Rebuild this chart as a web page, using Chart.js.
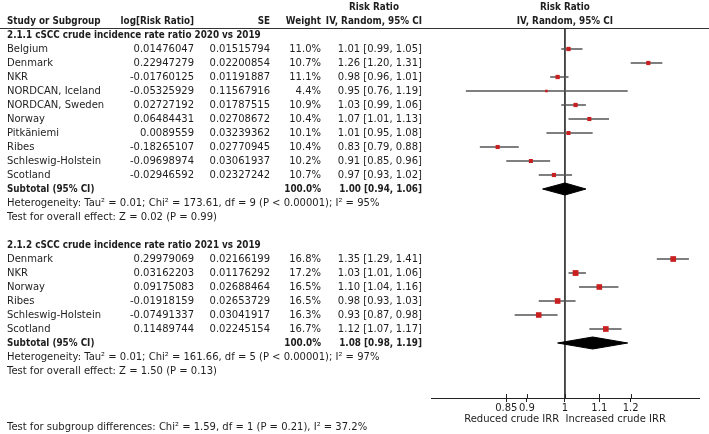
<!DOCTYPE html>
<html>
<head>
<meta charset="utf-8">
<script src="https://cdn.jsdelivr.net/npm/chart.js@4/dist/chart.umd.min.js"></script>
<style>
  html, body { margin: 0; padding: 0; background: #fff; }
  #wrap { width: 709px; height: 434px; position: relative; }
</style>
</head>
<body>
<div id="wrap"><canvas id="forest"></canvas></div>
<script>
// group 2.1.1 - 2020 vs 2019
const group1Title = '2.1.1 cSCC crude incidence rate ratio 2020 vs 2019';
const studies1 = ['Belgium', 'Denmark', 'NKR', 'NORDCAN, Iceland', 'NORDCAN, Sweden', 'Norway', 'Pitkäniemi', 'Ribes', 'Schleswig-Holstein', 'Scotland'];
const logRR1 = ['0.01476047', '0.22947279', '-0.01760125', '-0.05325929', '0.02727192', '0.06484431', '0.0089559', '-0.18265107', '-0.09698974', '-0.02946592'];
const se1 = ['0.01515794', '0.02200854', '0.01191887', '0.11567916', '0.01787515', '0.02708672', '0.03239362', '0.02770945', '0.03061937', '0.02327242'];
const weight1 = [11.0, 10.7, 11.1, 4.4, 10.9, 10.4, 10.1, 10.4, 10.2, 10.7];
const rr1 = [1.01, 1.26, 0.98, 0.95, 1.03, 1.07, 1.01, 0.83, 0.91, 0.97];
const lo1 = [0.99, 1.20, 0.96, 0.76, 0.99, 1.01, 0.95, 0.79, 0.85, 0.93];
const hi1 = [1.05, 1.31, 1.01, 1.19, 1.06, 1.13, 1.08, 0.88, 0.96, 1.02];
const total1 = [1.00, 0.94, 1.06];
const het1 = 'Heterogeneity: Tau² = 0.01; Chi² = 173.61, df = 9 (P < 0.00001); I² = 95%';
const effect1 = 'Test for overall effect: Z = 0.02 (P = 0.99)';

// group 2.1.2 - 2021 vs 2019
const group2Title = '2.1.2 cSCC crude incidence rate ratio 2021 vs 2019';
const studies2 = ['Denmark', 'NKR', 'Norway', 'Ribes', 'Schleswig-Holstein', 'Scotland'];
const logRR2 = ['0.29979069', '0.03162203', '0.09175083', '-0.01918159', '-0.07491337', '0.11489744'];
const se2 = ['0.02166199', '0.01176292', '0.02688464', '0.02653729', '0.03041917', '0.02245154'];
const weight2 = [16.8, 17.2, 16.5, 16.5, 16.3, 16.7];
const rr2 = [1.35, 1.03, 1.10, 0.98, 0.93, 1.12];
const lo2 = [1.29, 1.01, 1.04, 0.93, 0.87, 1.07];
const hi2 = [1.41, 1.06, 1.16, 1.03, 0.98, 1.17];
const total2 = [1.08, 0.98, 1.19];
const het2 = 'Heterogeneity: Tau² = 0.01; Chi² = 161.66, df = 5 (P < 0.00001); I² = 97%';
const effect2 = 'Test for overall effect: Z = 1.50 (P = 0.13)';

const subgroupTest = 'Test for subgroup differences: Chi² = 1.59, df = 1 (P = 0.21), I² = 37.2%';

const tickValues = [0.85, 0.9, 1, 1.1, 1.2];
const axisLeft = 'Reduced crude IRR';
const axisRight = 'Increased crude IRR';

// layout: one table row = 14px, row 0 sits at y=7
const ROW_PX = 14;
const Y_MIN = -0.5;
const Y_MAX = Y_MIN + 398 / ROW_PX;
const G1_START = 3;
const G1_TOTAL = G1_START + studies1.length;
const G2_HEAD = G1_TOTAL + 4;
const G2_START = G2_HEAD + 1;
const G2_TOTAL = G2_START + studies2.length;
const DIFF_ROW = G2_TOTAL + 6;

const FAMILY = '"DejaVu Sans", sans-serif';
const BOLD_FAMILY = '"DejaVu Sans Condensed", "DejaVu Sans", sans-serif';
const FS = 10;
const FS_BOLD = 9.8;
const TXT = '#1e1e1e';

function squareRadius(w) {
    return (1.5 + 0.25 * w) / (2 * Math.SQRT1_2);
}

const ciPoints = [];
const sqPoints = [];
const sqRadius = [];
function addGroup(rr, lo, hi, weight, start) {
    rr.forEach((v, i) => {
        const row = start + i;
        ciPoints.push({ x: lo[i], y: row }, { x: hi[i], y: row }, { x: lo[i], y: null });
        sqPoints.push({ x: v, y: row });
        sqRadius.push(squareRadius(weight[i]));
    });
}
addGroup(rr1, lo1, hi1, weight1, G1_START);
addGroup(rr2, lo2, hi2, weight2, G2_START);

function diamond(total, row) {
    const h = 0.43;
    return [
        { x: total[1], y: row }, { x: total[0], y: row - h },
        { x: total[2], y: row }, { x: total[0], y: row + h },
        { x: total[1], y: row }
    ];
}

const tablePlugin = {
    id: 'tableText',
    afterDraw(chart) {
        const ctx = chart.ctx;
        const ys = chart.scales.y;
        const xs = chart.scales.x;
        const yOf = r => ys.getPixelForValue(r);
        const one = xs.getPixelForValue(1);

        ctx.save();
        ctx.fillStyle = TXT;
        ctx.textBaseline = 'middle';
        function setFont(bold) {
            ctx.font = bold ? 'bold ' + FS_BOLD + 'px ' + BOLD_FAMILY : FS + 'px ' + FAMILY;
        }
        function txt(s, x, row, align, bold) {
            setFont(bold);
            ctx.textAlign = align || 'left';
            ctx.fillText(s, x, yOf(row));
        }

        const C_NAME = 7, C_LOG = 194, C_SE = 270, C_W = 321, C_CI = 422;

        // headers
        setFont(true);
        const ciHeadW = ctx.measureText('IV, Random, 95% CI').width;
        txt('Risk Ratio', C_CI - ciHeadW / 2, 0, 'center', true);
        txt('Risk Ratio', one, 0, 'center', true);
        txt('Study or Subgroup', C_NAME, 1, 'left', true);
        txt('log[Risk Ratio]', C_LOG, 1, 'right', true);
        txt('SE', C_SE, 1, 'right', true);
        txt('Weight', C_W, 1, 'right', true);
        txt('IV, Random, 95% CI', C_CI, 1, 'right', true);
        txt('IV, Random, 95% CI', one, 1, 'center', true);

        ctx.strokeStyle = '#333';
        ctx.lineWidth = 1;
        ctx.beginPath();
        ctx.moveTo(0, Math.round(yOf(1.5)) + 0.5);
        ctx.lineTo(chart.width, Math.round(yOf(1.5)) + 0.5);
        ctx.stroke();

        function group(title, names, logs, ses, ws, rr, lo, hi, tot, het, eff, start) {
            txt(title, C_NAME, start - 1, 'left', true);
            names.forEach((n, i) => {
                const r = start + i;
                txt(n, C_NAME, r);
                txt(logs[i], C_LOG, r, 'right');
                txt(ses[i], C_SE, r, 'right');
                txt(ws[i].toFixed(1) + '%', C_W, r, 'right');
                txt(rr[i].toFixed(2) + ' [' + lo[i].toFixed(2) + ', ' + hi[i].toFixed(2) + ']', C_CI, r, 'right');
            });
            const tr = start + names.length;
            txt('Subtotal (95% CI)', C_NAME, tr, 'left', true);
            txt('100.0%', C_W, tr, 'right', true);
            txt(tot[0].toFixed(2) + ' [' + tot[1].toFixed(2) + ', ' + tot[2].toFixed(2) + ']', C_CI, tr, 'right', true);
            txt(het, C_NAME, tr + 1);
            txt(eff, C_NAME, tr + 2);
        }
        group(group1Title, studies1, logRR1, se1, weight1, rr1, lo1, hi1, total1, het1, effect1, G1_START);
        group(group2Title, studies2, logRR2, se2, weight2, rr2, lo2, hi2, total2, het2, effect2, G2_START);
        txt(subgroupTest, C_NAME, DIFF_ROW);

        // upper half of the axis tick marks
        const base = chart.chartArea.bottom;
        ctx.strokeStyle = '#222';
        ctx.beginPath();
        xs.ticks.forEach(t => {
            const px = Math.round(xs.getPixelForValue(t.value)) + 0.5;
            ctx.moveTo(px, base - 4);
            ctx.lineTo(px, base);
        });
        ctx.stroke();
        ctx.restore();
    }
};

const ctx = document.getElementById('forest');

new Chart(ctx, {
    type: 'line',
    data: {
        datasets: [
            {
                data: sqPoints,
                showLine: false,
                pointStyle: 'rect',
                pointRadius: sqRadius,
                backgroundColor: '#c82020',
                borderWidth: 0,
                order: 0
            },
            {
                data: diamond(total1, G1_TOTAL),
                borderColor: '#000',
                backgroundColor: '#000',
                borderWidth: 1,
                fill: 'shape',
                pointRadius: 0,
                order: 1
            },
            {
                data: diamond(total2, G2_TOTAL),
                borderColor: '#000',
                backgroundColor: '#000',
                borderWidth: 1,
                fill: 'shape',
                pointRadius: 0,
                order: 1
            },
            {
                data: ciPoints,
                borderColor: '#555',
                borderWidth: 1.4,
                pointRadius: 0,
                spanGaps: false,
                order: 2
            },
            {
                data: [{ x: 1, y: 1.5 }, { x: 1, y: Y_MAX }],
                borderColor: '#333',
                borderWidth: 1,
                pointRadius: 0,
                order: 3
            }
        ]
    },
    options: {
        responsive: true,
        maintainAspectRatio: false,
        animation: false,
        events: [],
        layout: { autoPadding: false, padding: { left: 431, right: 10, top: 0, bottom: 0 } },
        plugins: {
            legend: { display: false },
            tooltip: { enabled: false }
        },
        scales: {
            x: {
                type: 'logarithmic',
                min: 0.69,
                max: 1.45,
                bounds: 'data',
                afterBuildTicks: s => { s.ticks = tickValues.map(v => ({ value: v })); },
                afterFit: s => { s.height = 36; },
                border: { display: true, color: '#222', width: 1 },
                grid: { drawOnChartArea: false, drawTicks: true, tickLength: 4, color: '#222' },
                ticks: {
                    autoSkip: false,
                    maxRotation: 0,
                    padding: 0,
                    color: TXT,
                    font: { family: FAMILY, size: FS },
                    callback: v => String(v)
                },
                title: {
                    display: true,
                    text: axisLeft + '  ' + axisRight,
                    color: TXT,
                    font: { family: FAMILY, size: FS },
                    padding: { top: 0, bottom: 9 }
                }
            },
            y: {
                type: 'linear',
                reverse: true,
                min: Y_MIN,
                max: Y_MAX,
                display: false
            }
        }
    },
    plugins: [tablePlugin]
});
</script>
</body>
</html>
